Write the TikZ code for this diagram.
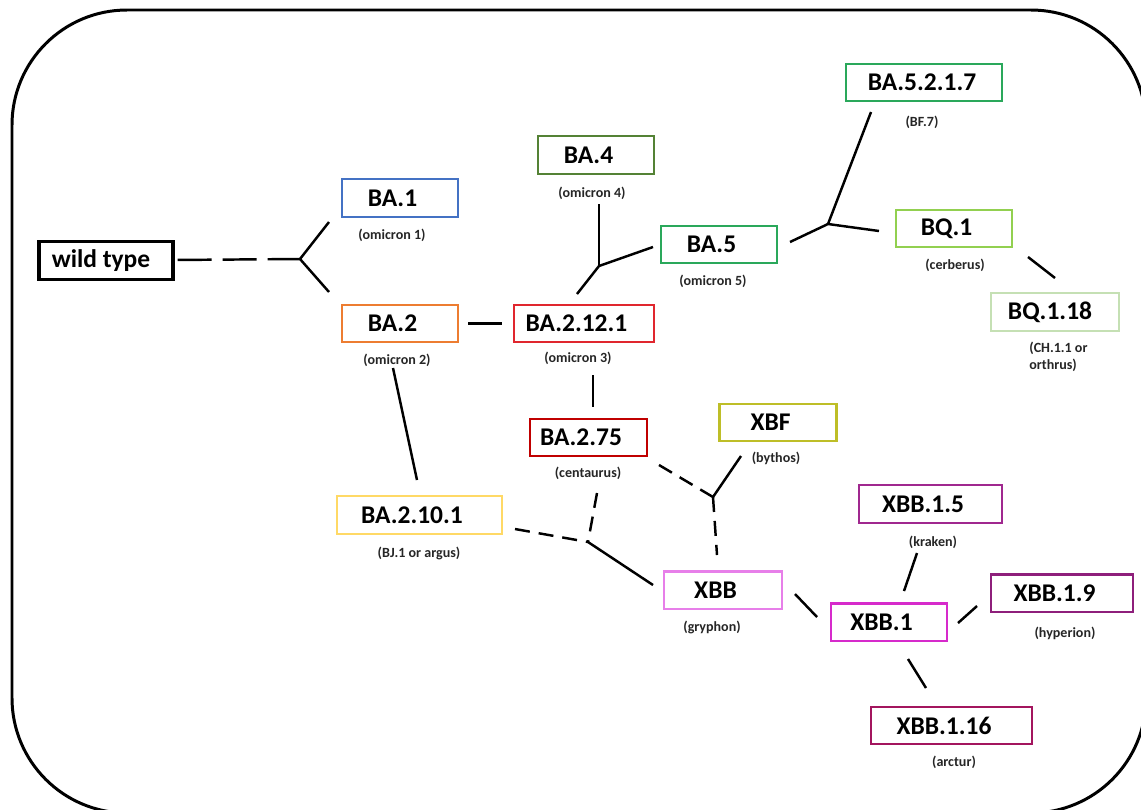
\documentclass[tikz,border=0pt]{standalone}
\usepackage{fontspec}
\setmainfont{Carlito}
\definecolor{baonecol}{HTML}{4472C4}
\definecolor{batwocol}{HTML}{ED7D31}
\definecolor{bathreecol}{HTML}{E0262E}
\definecolor{bafourcol}{HTML}{548235}
\definecolor{bafivecol}{HTML}{2AA85B}
\definecolor{bqcol}{HTML}{92D050}
\definecolor{bqlightcol}{HTML}{C5E0B4}
\definecolor{centcol}{HTML}{C00000}
\definecolor{xbfcol}{HTML}{BEBE28}
\definecolor{arguscol}{HTML}{FFD966}
\definecolor{xbbcol}{HTML}{E77FE9}
\definecolor{xbbonecol}{HTML}{D62ACB}
\definecolor{krakencol}{HTML}{A0288F}
\definecolor{hypcol}{HTML}{8E1F7B}
\definecolor{arctcol}{HTML}{A3155E}
\tikzset{
	pad/.store in=\strainpad, pad=0.3cm,
	strain/.style={draw=#1, line width=1.4pt, inner sep=0pt, minimum height=0.75cm,
		font=\fontsize{14.5}{17}\selectfont\bfseries, execute at end node={\hspace{\strainpad}}},
	alias/.style={font=\fontsize{8}{9.7}\selectfont\bfseries, text=black!85, inner sep=0pt},
	link/.style={line width=1.4pt},
	gap/.style={link, dash pattern=on 0.3cm off 0.18cm},
}

\begin{document}
\begin{tikzpicture}[x=0.02cm, y=-0.02cm]
		\useasboundingbox (0,0) rectangle (1141,809);
		\clip (0,0) rectangle (1141,809);
		\draw[line width=1.7pt, rounded corners=2.3cm] (12,10) rectangle (1146,813);

		% Define nodes
		\node[strain=black, line width=1.8pt, minimum width=2.68cm, pad=0.2cm] (wild) at (106,260.5) {wild type};

		\node[strain=baonecol, minimum width=2.32cm] (BA1) at (400,198) {BA.1};
		\node[alias] (BA1-l) at (392,235) {(omicron 1)};
		\node[strain=batwocol, minimum width=2.32cm] (BA2) at (400,323.5) {BA.2};
		\node[alias] (BA2-l) at (397,360) {(omicron 2)};
		\node[strain=bathreecol, minimum width=2.8cm] (BA2121) at (584,323.5) {BA.2.12.1};
		\node[alias] (BA2121-l) at (578,358) {(omicron 3)};
		\node[strain=bafourcol, minimum width=2.32cm] (BA4) at (596,155) {BA.4};
		\node[alias] (BA4-l) at (592,193) {(omicron 4)};
		\node[strain=bafivecol, minimum width=2.32cm] (BA5) at (719,244.5) {BA.5};
		\node[alias] (BA5-l) at (713,281) {(omicron 5)};

		\node[strain=bafivecol, minimum width=3.12cm, pad=0.08cm] (BA5217) at (924,82.5) {BA.5.2.1.7};
		\node[alias] (BA5217-l) at (922,122) {(BF.7)};
		\node[strain=bqcol, minimum width=2.32cm] (BQ1) at (954,228.5) {BQ.1};
		\node[alias] (BQ1-l) at (955,265) {(cerberus)};
		\node[strain=bqlightcol, minimum width=2.56cm, pad=0.2cm] (BQ118) at (1055,312) {BQ.1.18};
		\node[alias, anchor=west, align=left] (BQ118-l) at (1029,357) {(CH.1.1 or\\orthrus)};

		\node[strain=centcol, minimum width=2.34cm] (BA275) at (588.5,437.5) {BA.2.75};
		\node[alias] (BA275-l) at (588,473) {(centaurus)};
		\node[strain=xbfcol, minimum width=2.34cm] (XBF) at (778,422.5) {XBF};
		\node[alias] (XBF-l) at (776,458) {(bythos)};
		\node[strain=arguscol, minimum width=3.3cm] (BA2101) at (419.5,515) {BA.2.10.1};
		\node[alias] (BA2101-l) at (419,553) {(BJ.1 or argus)};

		\node[strain=xbbcol, minimum width=2.36cm] (XBB) at (723,590) {XBB};
		\node[alias] (XBB-l) at (712,627) {(gryphon)};
		\node[strain=xbbonecol, minimum width=2.32cm] (XBB1) at (889,622) {XBB.1};
		\node[strain=krakencol, minimum width=2.86cm] (XBB15) at (930.5,504) {XBB.1.5};
		\node[alias] (XBB15-l) at (933,542) {(kraken)};
		\node[strain=hypcol, minimum width=2.84cm] (XBB19) at (1062,593) {XBB.1.9};
		\node[alias] (XBB19-l) at (1065,633) {(hyperion)};
		\node[strain=arctcol, minimum width=3.22cm] (XBB116) at (951.5,725.5) {XBB.1.16};
		\node[alias] (XBB116-l) at (954,762) {(arctur)};

		% Branch points and loose ends
		\coordinate (j1) at (300,259);
		\coordinate (j2) at (599,266);
		\coordinate (j3) at (588,542);
		\coordinate (j4) at (713,497);
		\coordinate (j5) at (828,224);

		\coordinate (BA1-in) at (329,222);
		\coordinate (BA2-in) at (329,292);
		\coordinate (BA2-out) at (393,368);
		\coordinate (BA2101-in) at (417,480);
		\coordinate (BA2121-up) at (577,294);
		\coordinate (BA2121-down) at (593,375);
		\coordinate (BA275-in) at (593,407);
		\coordinate (BA4-in) at (599,204);
		\coordinate (BA5-in) at (653,247);
		\coordinate (BA5-out) at (790,242);
		\coordinate (BA5217-in) at (871,112);
		\coordinate (BQ1-in) at (879,231);
		\coordinate (BQ1-out) at (1028,257);
		\coordinate (BQ118-in) at (1055,278);
		\coordinate (BA2101-out) at (515,529);
		\coordinate (BA275-out) at (597,493);
		\coordinate (BA275-side) at (659,465);
		\coordinate (XBF-in) at (741,456);
		\coordinate (XBB-in) at (653,585);
		\coordinate (XBB-top) at (717,555);
		\coordinate (XBB-out) at (795,594);
		\coordinate (XBB1-in) at (817,617);
		\coordinate (XBB1-up) at (904,591);
		\coordinate (XBB15-in) at (917,553);
		\coordinate (XBB1-right) at (958,623);
		\coordinate (XBB19-in) at (977,606);
		\coordinate (XBB1-down) at (908,659);
		\coordinate (XBB116-in) at (926,688);

		% Connect the nodes
		\draw[link, dash pattern=on 0.68cm off 0.22cm, shorten <=0.06cm] (wild) -- (j1);
		\draw[link] (BA1-in) -- (j1) -- (BA2-in);
		\draw[link, shorten <=0.18cm, shorten >=0.22cm] (BA2) -- (BA2121);
		\draw[link] (BA2-out) -- (BA2101-in);
		\draw[link] (BA4-in) -- (j2);
		\draw[link] (BA2121-up) -- (j2) -- (BA5-in);
		\draw[link] (BA5-out) -- (j5) -- (BQ1-in);
		\draw[link] (j5) -- (BA5217-in);
		\draw[link] (BQ1-out) -- (BQ118-in);
		\draw[link] (BA2121-down) -- (BA275-in);

		\draw[gap] (BA2101-out) -- (j3);
		\draw[gap] (BA275-out) -- (j3);
		\draw[link] (j3) -- (XBB-in);
		\draw[gap] (BA275-side) -- (j4);
		\draw[link] (j4) -- (XBF-in);
		\draw[gap] (j4) -- (XBB-top);

		\draw[link] (XBB-out) -- (XBB1-in);
		\draw[link] (XBB1-up) -- (XBB15-in);
		\draw[link] (XBB1-right) -- (XBB19-in);
		\draw[link] (XBB1-down) -- (XBB116-in);

\end{tikzpicture}
\end{document}
